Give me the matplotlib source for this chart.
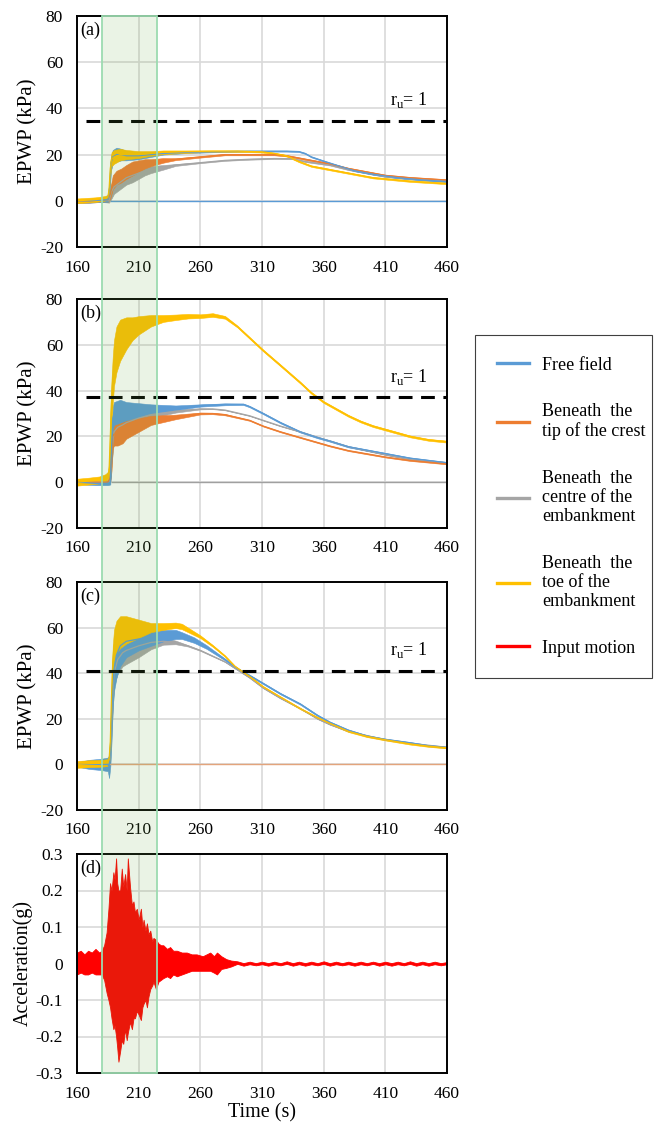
import numpy as np
import matplotlib
matplotlib.use("Agg")
import matplotlib.pyplot as plt
import matplotlib.transforms as mtransforms
from matplotlib.patches import Rectangle
from matplotlib.lines import Line2D

plt.rcParams["font.family"] = ["Liberation Serif", "DejaVu Serif"]
plt.rcParams["mathtext.fontset"] = "custom"
plt.rcParams["mathtext.rm"] = "Liberation Serif"
plt.rcParams["axes.unicode_minus"] = False

# ---- colours (Excel defaults) ----
C_BLUE, C_ORANGE, C_GRAY, C_YELLOW, C_RED = "#5B9BD5", "#ED7D31", "#A5A5A5", "#FFC000", "#FF0000"

# ---- EPWP series: rows of [time (s), mean (kPa), noise half-width (kPa)] ----
# (a)
a_blue = np.array([[160, 0, .8], [170, 0, .8], [180, .3, .8], [185, .5, 1], [186.5, 6, 3], [187.5, 16, 3],
                   [189, 19, 3], [192, 20, 3], [196, 20, 2.5], [200, 19.5, 2], [210, 19.5, 1.5], [220, 20, 1],
                   [230, 20.5, .5], [250, 21, .3], [270, 21.2, .2], [300, 21.5, .2], [330, 21.5, .2],
                   [340, 21.3, .2], [345, 20.5, .2], [350, 19, .2], [360, 17.2, .2], [370, 15.5, .2],
                   [385, 13, .2], [400, 11.5, .2], [420, 10, .2], [440, 9, .2], [460, 8.3, .2]])
a_orange = np.array([[160, 0, .8], [170, 0, .8], [180, .3, .8], [185, .5, 1], [187, 3, 2], [189, 8, 3],
                     [192, 10, 3], [196, 11, 3], [200, 12.5, 3], [205, 14, 3], [210, 15, 2.5], [215, 16, 2],
                     [220, 16.5, 1.5], [230, 17.5, 1], [240, 18, .4], [260, 19, .3], [280, 20, .3],
                     [300, 20, .3], [320, 20, .3], [330, 19.5, .3], [340, 18.5, .3], [350, 17.5, .3],
                     [365, 16, .3], [380, 14, .3], [400, 12, .3], [410, 11, .3], [430, 10, .3], [460, 9, .3]])
a_gray = np.array([[160, 0, .8], [180, .3, .8], [186, 0, .8], [188, 4, 3], [190, 6, 3], [195, 8, 3],
                   [200, 10, 3], [205, 11, 3], [210, 12, 2.5], [215, 13, 2], [220, 13.5, 1.5], [230, 14.5, 1],
                   [240, 15.5, .4], [260, 16.5, .2], [280, 17.5, .2], [300, 18, .2], [320, 18.3, .2],
                   [335, 18.2, .2], [345, 17, .2], [365, 15.5, .2], [380, 13.5, .2], [400, 11.5, .2],
                   [410, 10.5, .2], [430, 9.5, .2], [460, 8.5, .2]])
a_yellow = np.array([[160, 0, 1], [175, .5, 1], [182, 1, 1], [185, 1.5, 1], [186, 5, 2], [187, 14, 3],
                     [188, 18, 3], [190, 19, 3], [195, 20, 2.5], [200, 20, 2], [210, 20, 1.5], [220, 20.5, 1],
                     [230, 21, .8], [250, 21.3, .5], [270, 21.5, .3], [290, 21.5, .3], [310, 21.2, .3],
                     [320, 20.5, .3], [330, 19.5, .3], [340, 17, .3], [350, 15, .3], [360, 14, .3],
                     [370, 13, .3], [385, 11.5, .3], [400, 10, .3], [410, 9.5, .3], [430, 8.5, .3],
                     [460, 7.5, .3]])
a_zero = np.array([[187.5, 0], [460, 0]])

# (b)
b_blue = np.array([[160, 0, .8], [175, -.5, .8], [185, -.5, .8], [187, 0, 1], [188, 15, 5], [189, 28, 5],
                   [190, 30, 5], [195, 31, 5], [200, 31, 4], [210, 31.5, 3], [220, 32, 2], [240, 32.5, 1],
                   [260, 33.5, .5], [280, 34, .4], [295, 34, .3], [300, 33, .3], [311, 30, .3],
                   [325, 26, .3], [341, 22, .3], [355, 19.5, .3], [365, 18, .3], [380, 15.5, .3],
                   [395, 14, .3], [410, 12.5, .3], [430, 10.5, .3], [445, 9.5, .3], [460, 8.5, .3]])
b_orange = np.array([[160, 0, .8], [185, 0, .8], [187, 2, 2], [188, 10, 5], [189, 20, 5], [190, 21, 5],
                     [193, 21, 5], [197, 22, 5], [200, 23, 4], [210, 25, 3], [220, 27, 2], [240, 28.5, 1],
                     [260, 30, .4], [270, 30, .3], [280, 29.5, .3], [300, 27, .2], [311, 24.5, .2],
                     [325, 22, .2], [341, 19.5, .2], [365, 15.8, .2], [380, 13.8, .2], [410, 11, .2],
                     [430, 9.5, .2], [460, 8, .2]])
b_gray = np.array([[160, 0, .8], [186, 0, .8], [187, 2, 1], [188, 12, 4], [190, 22, 4], [193, 24, 4],
                   [197, 25, 4], [200, 26, 3.5], [210, 28, 2.5], [220, 29.5, 1.5], [240, 31, .6],
                   [260, 32, .2], [270, 32, .1], [280, 31.5, .1], [300, 29, .1], [311, 27, .1],
                   [325, 24.5, .1], [341, 22, .1], [365, 18, .1], [380, 15.5, .1], [410, 12, .1],
                   [430, 10, .1], [460, 8.5, .1]])
b_yellow = np.array([[160, 0, 1.5], [170, .5, 1.5], [178, 1, 1.5], [183, 2, 1.5], [185, 3, 1.5],
                     [186, 5, 3], [187, 20, 10], [188, 35, 10], [189, 45, 10], [190, 52, 10], [192, 58, 10],
                     [195, 62, 9], [200, 65, 7], [205, 67, 5], [210, 68.5, 4], [220, 70.5, 2.5],
                     [230, 71.5, 1.5], [240, 72, 1.2], [250, 72.5, 1], [260, 72.5, .8], [270, 73, .8],
                     [280, 72, .6], [290, 68, .4], [300, 63, .4], [311, 57.5, .4], [325, 51, .4],
                     [341, 43.5, .4], [350, 39, .4], [360, 35, .4], [370, 32, .4], [380, 29, .4],
                     [390, 26.5, .4], [400, 24.5, .4], [410, 23, .4], [420, 21.5, .4], [430, 20, .4],
                     [445, 18.5, .4], [460, 17.7, .4]])
b_zero = np.array([[188, 0], [460, 0]])

# (c)
c_blue = np.array([[160, 0, 1], [170, 0, 2], [180, 0, 2.5], [185, 0, 3], [186, -1, 5], [187, 5, 6],
                   [188, 20, 10], [189, 35, 10], [190, 42, 10], [192, 48, 10], [195, 52, 9], [200, 54, 7],
                   [210, 55, 5], [220, 56, 4], [230, 56.5, 2.5], [240, 57, 2], [245, 56.5, 1.5],
                   [255, 54.5, 1.2], [265, 51.5, .8], [280, 46, .4], [290, 42, .3], [300, 39, .3],
                   [311, 35.5, .3], [325, 31, .3], [341, 26.5, .3], [355, 21.5, .3], [365, 18.5, .3],
                   [380, 15, .3], [395, 12.5, .3], [410, 11, .3], [430, 9.5, .3], [445, 8.2, .3],
                   [460, 7.5, .3]])
c_gray = np.array([[160, 0, .8], [186, 0, .8], [187, 5, 3], [188, 20, 6], [190, 40, 6], [193, 46, 6],
                   [197, 49, 6], [200, 50, 6], [210, 52, 5], [220, 53.5, 3], [230, 54, 1.5], [240, 53.5, .8],
                   [250, 52, .3], [260, 50, .2], [280, 45, .1], [290, 41.5, .1], [300, 38, .1],
                   [311, 33.5, .1], [325, 29, .1], [341, 24.5, .1], [355, 20, .1], [365, 17.5, .1],
                   [380, 14.5, .1], [410, 10.8, .1], [430, 9.3, .1], [460, 7.5, .1]])
c_yellow = np.array([[160, 0, 1.5], [170, .3, 1.5], [180, .5, 1.5], [185, .8, 1.5], [186, 2, 2],
                     [187, 10, 4], [188, 30, 7], [189, 45, 7], [190, 52, 7], [192, 56, 7], [195, 58, 7],
                     [200, 59, 6], [210, 59.5, 4], [220, 60, 2], [230, 60.5, 1.5], [240, 61, 1.2],
                     [245, 60.5, 1.2], [250, 59, 1], [260, 56, .6], [270, 52, .4], [280, 47.5, .3],
                     [288, 43, .3], [300, 38.5, .3], [311, 34, .3], [325, 29.5, .3], [341, 24.5, .3],
                     [355, 20.5, .3], [365, 18, .3], [380, 14.5, .3], [395, 12.3, .3], [410, 10.8, .3],
                     [430, 9, .3], [445, 8, .3], [460, 7.3, .3]])
c_zero = np.array([[186, 0], [460, 0]])

# r_u = 1 levels for (a), (b), (c)
ru_levels = [34.5, 37, 41]
ru_x = [167, 460]

# ---- input motion envelope: rows of [time (s), upper (g), lower (g)] ----
acc = np.array([
    [160, .03, -.03], [163, .035, -.025], [166, .025, -.03], [169, .035, -.03], [172, .03, -.025],
    [175, .04, -.03], [178, .03, -.03], [180, .035, -.03], [182, .05, -.045], [184, .085, -.08],
    [185.5, .15, -.1], [186.8, .22, -.12], [188, .2, -.15], [189.5, .25, -.18], [190.5, .23, -.17],
    [191.7, .288, -.2], [192.6, .22, -.23], [193.6, .2, -.269], [195, .2, -.24], [196.3, .26, -.21],
    [197.5, .21, -.22], [199, .245, -.18], [200.3, .2, -.21], [201.2, .288, -.19], [203, .21, -.16],
    [204.5, .16, -.18], [205.8, .17, -.15], [207, .14, -.15], [208.5, .15, -.13], [210, .12, -.14],
    [211.8, .15, -.155], [213, .1, -.12], [214, .12, -.11], [215.5, .09, -.1], [216.7, .11, -.12],
    [218, .08, -.09], [219.4, .09, -.07], [221, .06, -.06], [222, .07, -.05], [224, .065, -.07],
    [226, .055, -.05], [228, .05, -.045], [230, .05, -.04], [233, .04, -.035], [235.5, .045, -.04],
    [238, .035, -.03], [241, .035, -.035], [245, .03, -.03], [249, .03, -.025], [253, .025, -.02],
    [257, .025, -.02], [262, .02, -.02], [268, .03, -.02], [271, .02, -.025], [273.5, .03, -.03],
    [277, .02, -.015], [281, .012, -.012], [285, .008, -.008],
    [290, .006, -.001], [295, .001, -.006], [300, .005, -.002], [305, .001, -.005], [310, .005, -.002],
    [315, .001, -.006], [320, .005, -.002], [325, .001, -.005], [330, .006, -.001], [335, .001, -.006],
    [340, .005, -.002], [345, .001, -.006], [350, .005, -.002], [355, .001, -.005], [360, .006, -.001],
    [365, .001, -.006], [370, .005, -.002], [375, .001, -.005], [380, .005, -.002], [385, .001, -.006],
    [390, .005, -.002], [395, .001, -.005], [400, .005, -.001], [405, .001, -.006], [410, .005, -.002],
    [415, .001, -.006], [420, .005, -.002], [425, .001, -.005], [430, .006, -.001], [435, .001, -.006],
    [440, .005, -.002], [445, .001, -.006], [450, .005, -.002], [455, .001, -.005], [460, .004, -.002],
])

x_ticks = [160, 210, 260, 310, 360, 410, 460]
epwp_ticks = [-20, 0, 20, 40, 60, 80]
acc_ticks = [-0.3, -0.2, -0.1, 0, 0.1, 0.2, 0.3]
shade_span = (180, 225)


def style_ax(ax, ylim, yticks):
    ax.set_xlim(160, 460)
    ax.set_xticks(x_ticks)
    ax.set_ylim(*ylim)
    ax.set_yticks(yticks)
    ax.set_yticklabels([f"{v:g}" for v in yticks])
    ax.grid(True, color="#d9d9d9", linewidth=1.2)
    ax.set_axisbelow(True)
    ax.tick_params(length=0, labelsize=12.5)
    ax.tick_params(axis="x", pad=9)
    ax.tick_params(axis="y", pad=10)
    for sp in ax.spines.values():
        sp.set_linewidth(1.4)
        sp.set_color("black")


def draw_series(ax, data, color):
    t, v, s = data[:, 0], data[:, 1], data[:, 2]
    ax.fill_between(t, v - s, v + s, color=color, linewidth=0.4)
    ax.plot(t, v, color=color, linewidth=0.9)


fig = plt.figure(figsize=(6.57, 11.24), dpi=100)
left, width = 77 / 657, 370 / 657
ax_a = fig.add_axes([left, 1 - 247 / 1124, width, 231 / 1124])
ax_b = fig.add_axes([left, 1 - 528 / 1124, width, 229 / 1124])
ax_c = fig.add_axes([left, 1 - 810 / 1124, width, 228 / 1124])
ax_d = fig.add_axes([left, 1 - 1073 / 1124, width, 219 / 1124])

panels = [
    (ax_a, "(a)", a_zero, C_BLUE, [a_gray, a_orange, a_blue, a_yellow], [C_GRAY, C_ORANGE, C_BLUE, C_YELLOW]),
    (ax_b, "(b)", b_zero, "#A0A0A0", [b_gray, b_orange, b_blue, b_yellow], [C_GRAY, C_ORANGE, C_BLUE, C_YELLOW]),
    (ax_c, "(c)", c_zero, "#E3A47C", [c_gray, c_blue, c_yellow], [C_GRAY, C_BLUE, C_YELLOW]),
]

for (ax, tag, zero, zcol, series, cols), ru in zip(panels, ru_levels):
    style_ax(ax, (-20, 80), epwp_ticks)
    ax.plot(zero[:, 0], zero[:, 1], color=zcol, linewidth=1.0)
    for data, col in zip(series, cols):
        draw_series(ax, data, col)
    ax.plot(ru_x, [ru, ru], color="black", linewidth=2.2, linestyle=(0, (4.5, 2.8)))
    ax.text(414, ru + 9, r"r$_\mathrm{u}$= 1", fontsize=13, ha="left", va="center")
    ax.text(0.01, 0.975, tag, transform=ax.transAxes, fontsize=13, ha="left", va="top")
    ax.set_ylabel("EPWP (kPa)", fontsize=15, labelpad=2)

# (d) input motion
style_ax(ax_d, (-0.3, 0.3), acc_ticks)
ax_d.fill_between(acc[:, 0], acc[:, 2], acc[:, 1], color=C_RED, linewidth=0.6)
ax_d.text(0.01, 0.975, "(d)", transform=ax_d.transAxes, fontsize=13, ha="left", va="top")
ax_d.set_ylabel("Acceleration(g)", fontsize=14.5, labelpad=2)
ax_d.set_xlabel("Time (s)", fontsize=14.5, labelpad=1)

# shaded strong-motion window across all panels
y_bot = ax_d.get_position().y0
y_top = ax_a.get_position().y1
trans = mtransforms.blended_transform_factory(ax_d.transData, fig.transFigure)
fig.add_artist(Rectangle((shade_span[0], y_bot), shade_span[1] - shade_span[0], y_top - y_bot,
                         transform=trans, facecolor=(0.44, 0.68, 0.28, 0.14),
                         edgecolor="#9CDBB0", linewidth=1.3))

# legend
handles = [Line2D([], [], color=c, linewidth=2.4) for c in [C_BLUE, C_ORANGE, C_GRAY, C_YELLOW, C_RED]]
labels = ["Free field", "Beneath  the\ntip of the crest", "Beneath  the\ncentre of the\nembankment",
          "Beneath  the\ntoe of the\nembankment", "Input motion"]
leg = fig.legend(handles, labels, loc="upper left",
                 bbox_to_anchor=(475 / 657, 1 - 678 / 1124, 177 / 657, 343 / 1124), mode="expand",
                 borderaxespad=0, fontsize=13, frameon=True, fancybox=False, edgecolor="#404040",
                 framealpha=1, borderpad=1.2, handlelength=1.8, handletextpad=0.7, labelspacing=1.65)
leg.get_frame().set_linewidth(0.8)
for t in leg.get_texts():
    t.set_linespacing(1.15)

fig.savefig("out.png", dpi=100)
